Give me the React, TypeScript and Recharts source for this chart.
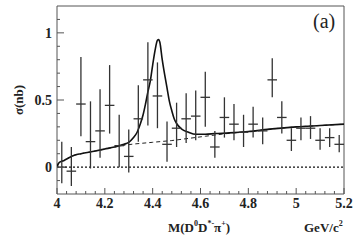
import React from 'react';
import { ComposedChart, Line, Scatter, ErrorBar, XAxis, YAxis, ReferenceLine, ReferenceArea } from 'recharts';

// measured cross section, bin centres in GeV/c^2
const mass = [4.02, 4.06, 4.1, 4.14, 4.18, 4.22, 4.26, 4.3, 4.34, 4.38, 4.42, 4.46, 4.5, 4.54, 4.58,
  4.62, 4.66, 4.7, 4.74, 4.78, 4.82, 4.86, 4.9, 4.94, 4.98, 5.02, 5.06, 5.1, 5.14, 5.18];
const sigma = [0.0, -0.03, 0.47, 0.19, 0.27, 0.46, 0.16, 0.08, 0.36, 0.65, 0.53, 0.17, 0.29, 0.36, 0.38,
  0.52, 0.15, 0.37, 0.32, 0.26, 0.32, 0.27, 0.65, 0.37, 0.2, 0.29, 0.29, 0.2, 0.22, 0.17];
const errUp = [0.19, 0.18, 0.35, 0.3, 0.31, 0.3, 0.23, 0.2, 0.25, 0.28, 0.25, 0.17, 0.19, 0.19, 0.19,
  0.19, 0.12, 0.15, 0.15, 0.13, 0.13, 0.1, 0.16, 0.12, 0.09, 0.08, 0.09, 0.09, 0.07, 0.07];
const errDown = [0.12, 0.11, 0.24, 0.2, 0.2, 0.21, 0.16, 0.12, 0.17, 0.34, 0.24, 0.13, 0.14, 0.18, 0.18,
  0.22, 0.08, 0.15, 0.12, 0.11, 0.1, 0.1, 0.13, 0.12, 0.08, 0.09, 0.08, 0.07, 0.07, 0.06];
const binHalf = 0.02;

// total fit (signal + background)
const fitX = [4.0, 4.005, 4.01, 4.03, 4.05, 4.075, 4.1, 4.16, 4.2, 4.24, 4.28, 4.3, 4.32, 4.335, 4.35,
  4.36, 4.37, 4.38, 4.39, 4.4, 4.41, 4.42, 4.425, 4.43, 4.44, 4.45, 4.46, 4.47, 4.48, 4.49, 4.5,
  4.52, 4.55, 4.58, 4.62, 4.66, 4.72, 4.8, 4.9, 5.0, 5.1, 5.2];
const fitY = [0.0, 0.025, 0.035, 0.05, 0.07, 0.09, 0.1, 0.12, 0.135, 0.15, 0.17, 0.185, 0.22, 0.26, 0.33,
  0.39, 0.47, 0.56, 0.64, 0.76, 0.87, 0.945, 0.95, 0.93, 0.8, 0.69, 0.59, 0.49, 0.42, 0.36, 0.325,
  0.285, 0.26, 0.245, 0.245, 0.25, 0.255, 0.265, 0.285, 0.3, 0.31, 0.32];

// background only
const bkgX = [4.0, 4.005, 4.01, 4.03, 4.05, 4.075, 4.1, 4.16, 4.2, 4.24, 4.28, 4.32, 4.4, 4.48, 4.55,
  4.62, 4.7, 4.8, 4.9, 5.0, 5.1, 5.2];
const bkgY = [0.0, 0.025, 0.035, 0.05, 0.07, 0.09, 0.1, 0.12, 0.135, 0.15, 0.163, 0.172, 0.185, 0.198, 0.214,
  0.23, 0.248, 0.265, 0.285, 0.3, 0.31, 0.32];

const xLabels: Record<string, string> = { '4': '4', '4.2': '4.2', '4.4': '4.4', '4.6': '4.6', '4.8': '4.8', '5': '5', '5.2': '5.2' };
const yLabels: Record<string, string> = { '0': '0', '0.5': '0.5', '1': '1' };
const xTicks = Array.from({ length: 31 }, (_, i) => Math.round((4 + i * 0.04) * 100) / 100);
const yTicks = Array.from({ length: 13 }, (_, i) => Math.round((-0.1 + i * 0.1) * 10) / 10);

const points = mass.map((m, i) => ({ x: m, y: sigma[i], yErr: [errDown[i], errUp[i]], xErr: binHalf }));
const fitData = fitX.map((x, i) => ({ x, y: fitY[i] }));
const bkgData = bkgX.map((x, i) => ({ x, y: bkgY[i] }));

const font = '"Liberation Serif", "Times New Roman", serif';
const ink = '#222';

const XTick = (props: any) => {
  const { x, y, payload } = props;
  const label = xLabels[String(payload.value)];
  return (
    <g>
      <line x1={x} x2={x} y1={y} y2={y - (label ? 6 : 3)} stroke="#555" strokeWidth={1} />
      {label && (
        <text x={x} y={y + 14} textAnchor="middle" fontFamily={font} fontWeight="bold" fontSize={14} fill={ink}>
          {label}
        </text>
      )}
    </g>
  );
};

const YTick = (props: any) => {
  const { x, y, payload } = props;
  const label = yLabels[String(payload.value)];
  return (
    <g>
      <line x1={x} x2={x + (label ? 7 : 3)} y1={y} y2={y} stroke="#555" strokeWidth={1} />
      {label && (
        <text x={x - 5} y={y + 5} textAnchor="end" fontFamily={font} fontWeight="bold" fontSize={14} fill={ink}>
          {label}
        </text>
      )}
    </g>
  );
};

const NoDot = () => <g />;

export default function App() {
  return (
    <div style={{ position: 'absolute', left: 0, top: 0, width: 363, height: 245, background: '#fff' }}>
      <ComposedChart width={363} height={245} margin={{ top: 6, right: 19, left: 0, bottom: 0 }}>
        <XAxis
          type="number"
          dataKey="x"
          domain={[4, 5.2]}
          ticks={xTicks}
          interval={0}
          tickSize={0}
          tickMargin={0}
          tick={<XTick />}
          axisLine={false}
          tickLine={false}
          height={51}
          allowDataOverflow
        />
        <YAxis
          type="number"
          dataKey="y"
          domain={[-0.2, 1.2]}
          ticks={yTicks}
          interval={0}
          tickSize={0}
          tickMargin={0}
          tick={<YTick />}
          axisLine={false}
          tickLine={false}
          width={57}
          allowDataOverflow
        />
        <ReferenceArea x1={4} x2={5.2} y1={-0.2} y2={1.2} fill="none" stroke="#555" strokeWidth={1} />
        <ReferenceLine y={0} stroke="#111" strokeWidth={1.3} strokeDasharray="2 2" />
        <Line data={bkgData} dataKey="y" type="linear" stroke="#222" strokeWidth={1} strokeDasharray="4 3" dot={false} isAnimationActive={false} />
        <Line data={fitData} dataKey="y" type="monotone" stroke="#111" strokeWidth={1.6} dot={false} isAnimationActive={false} />
        <Scatter data={points} dataKey="y" shape={<NoDot />} isAnimationActive={false}>
          <ErrorBar dataKey="yErr" direction="y" width={0} stroke="#333" strokeWidth={1.3} isAnimationActive={false} />
          <ErrorBar dataKey="xErr" direction="x" width={0} stroke="#333" strokeWidth={1.3} isAnimationActive={false} />
        </Scatter>
      </ComposedChart>
      <svg width={363} height={245} style={{ position: 'absolute', left: 0, top: 0, pointerEvents: 'none' }}>
        <text x={313} y={28} fontFamily={font} fontSize={20} fill={ink}>(a)</text>
        <text transform="translate(23,100) rotate(-90)" textAnchor="middle" fontFamily={font} fontWeight="bold" fontSize={13} fill={ink}>
          σ(nb)
        </text>
        <text x={168} y={232} fontFamily={font} fontWeight="bold" fontSize={13} fill={ink}>
          M(D
          <tspan fontSize={8} dy={-6}>0</tspan>
          <tspan dy={6}>D</tspan>
          <tspan fontSize={8} dy={-6}>*-</tspan>
          <tspan dy={6}>π</tspan>
          <tspan fontSize={8} dy={-6}>+</tspan>
          <tspan dy={6}>)</tspan>
        </text>
        <text x={304} y={232} fontFamily={font} fontWeight="bold" fontSize={13} fill={ink}>
          GeV/c
          <tspan fontSize={8} dy={-6}>2</tspan>
        </text>
      </svg>
    </div>
  );
}
